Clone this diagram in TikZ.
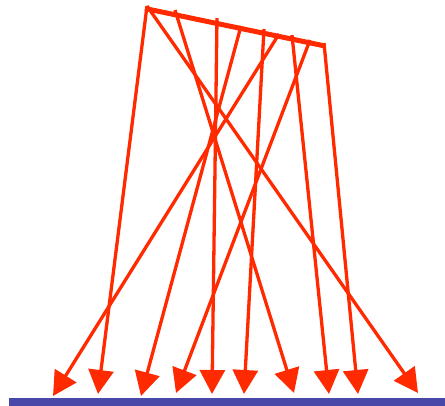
\documentclass[tikz,border=0pt]{standalone}
\usepackage{tikz}
\usetikzlibrary{arrows.meta}
\definecolor{vermelho}{HTML}{FF2A00}
\definecolor{azul}{HTML}{4848A8}

\begin{document}
\begin{tikzpicture}[x=1pt,y=-1pt, ar/.style={-{Triangle[length=24pt,width=25pt]}, line width=3.3pt, draw=vermelho},
  barra/.style={line width=5pt, draw=vermelho}]
  \useasboundingbox (0,0) rectangle (445,406);
  % chao
  \fill[azul] (9,398) rectangle (445,406);
  % barra inclinada
  \coordinate (ta) at (145,8.5);
  \coordinate (tb) at (325,46);
  \draw[barra] (ta) -- (tb);
  % setas
  \foreach \i/\xt/\yt/\xb/\yb in {1/147/6/98/394, 2/147/6/418/393, 3/175/10/294/393, 4/217/18/212/394,
    5/241/26/141/396, 6/264/29/244/394, 7/279/34/53/396, 8/292/35/329/394, 9/310/40/176/393, 10/324/43/358/394}{
    \coordinate (t\i) at (\xt,\yt); \coordinate (b\i) at (\xb,\yb);
    \draw[ar] (t\i) -- (b\i);}
\end{tikzpicture}
\end{document}
